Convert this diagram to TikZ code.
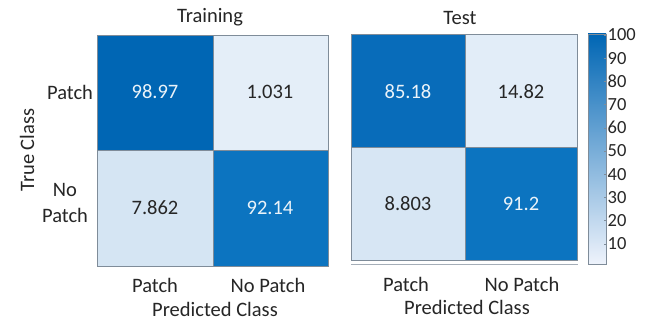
\documentclass[tikz,border=0pt]{standalone}
\usepackage{fontspec}
\setmainfont{Carlito}
\definecolor{dk1}{HTML}{0066B4}
\definecolor{dk2}{HTML}{0C74C0}
\definecolor{dk3}{HTML}{086CBA}
\definecolor{lt1}{HTML}{E4EEF8}
\definecolor{lt2}{HTML}{D5E5F3}
\definecolor{lt3}{HTML}{E2EDF8}
\definecolor{lt4}{HTML}{D7E6F4}
\definecolor{txt}{HTML}{262626}
\definecolor{edge}{HTML}{7F8C99}
\begin{document}
\begin{tikzpicture}[x=1pt,y=-1pt,
  cell/.style={draw=edge,line width=0.8pt,minimum width=#1,inner sep=0pt,text=txt,font=\fontsize{20.5}{22}\selectfont},
  lab/.style={text=txt,font=\fontsize{20.5}{22}\selectfont,inner sep=0pt},
  tick/.style={text=txt,font=\fontsize{18.5}{20}\selectfont,inner sep=0pt,anchor=west}]
\useasboundingbox (0,0) rectangle (646,320);
\fill[white] (0,0) rectangle (646,320);
% Training matrix
\path[cell=0pt] (97,35) rectangle (213,150);
\fill[dk1,draw=edge,line width=0.8pt] (97,35) rectangle (213,150);
\fill[lt1,draw=edge,line width=0.8pt] (213,35) rectangle (328,150);
\fill[lt2,draw=edge,line width=0.8pt] (97,150) rectangle (213,266);
\fill[dk2,draw=edge,line width=0.8pt] (213,150) rectangle (328,266);
\node[lab,text=white!92!dk1] (a11) at (155,92) {98.97};
\node[lab] (a12) at (270,92) {1.031};
\node[lab] (a21) at (155,208) {7.862};
\node[lab,text=white!92!dk1] (a22) at (270,208) {92.14};
\node[lab] (ttrain) at (210,17) {Training};
\node[lab] (rp) at (70,92) {Patch};
\node[lab,align=center,font=\fontsize{20.5}{26}\selectfont] (rnp) at (65,203) {No\\Patch};
\node[lab,rotate=90] (tc) at (27,150) {True Class};
\node[lab] (cp1) at (155,285) {Patch};
\node[lab] (cnp1) at (268,285) {No Patch};
\node[lab] (pc1) at (215,309) {Predicted Class};
% Test matrix
\fill[dk3,draw=edge,line width=0.8pt] (351,34) rectangle (465,147);
\fill[lt3,draw=edge,line width=0.8pt] (465,34) rectangle (577,147);
\fill[lt4,draw=edge,line width=0.8pt] (351,147) rectangle (465,260);
\fill[dk2,draw=edge,line width=0.8pt] (465,147) rectangle (577,260);
\draw[edge!70,line width=0.6pt] (351,264) -- (578,264);
\node[lab,text=white!92!dk1] (b11) at (408,92) {85.18};
\node[lab] (b12) at (521,92) {14.82};
\node[lab] (b21) at (408,204) {8.803};
\node[lab,text=white!92!dk1] (b22) at (521,204) {91.2};
\node[lab] (ttest) at (460,18) {Test};
\node[lab] (cp2) at (406,284) {Patch};
\node[lab] (cnp2) at (522,284) {No Patch};
\node[lab] (pc2) at (467,307) {Predicted Class};
% colorbar
\shade[bottom color=white!88!dk1!95!blue!40,top color=dk1] (588,34) rectangle (606,264);
\draw[edge,line width=0.8pt] (588,34) rectangle (606,264);
\foreach \v in {10,20,...,100}{
  \pgfmathsetmacro{\yy}{267-2.32*\v}
  \draw[edge,line width=0.5pt] (606,\yy) -- (603.5,\yy);
  \node[tick] at (607.5,\yy) {\v};
}
\end{tikzpicture}
\end{document}
